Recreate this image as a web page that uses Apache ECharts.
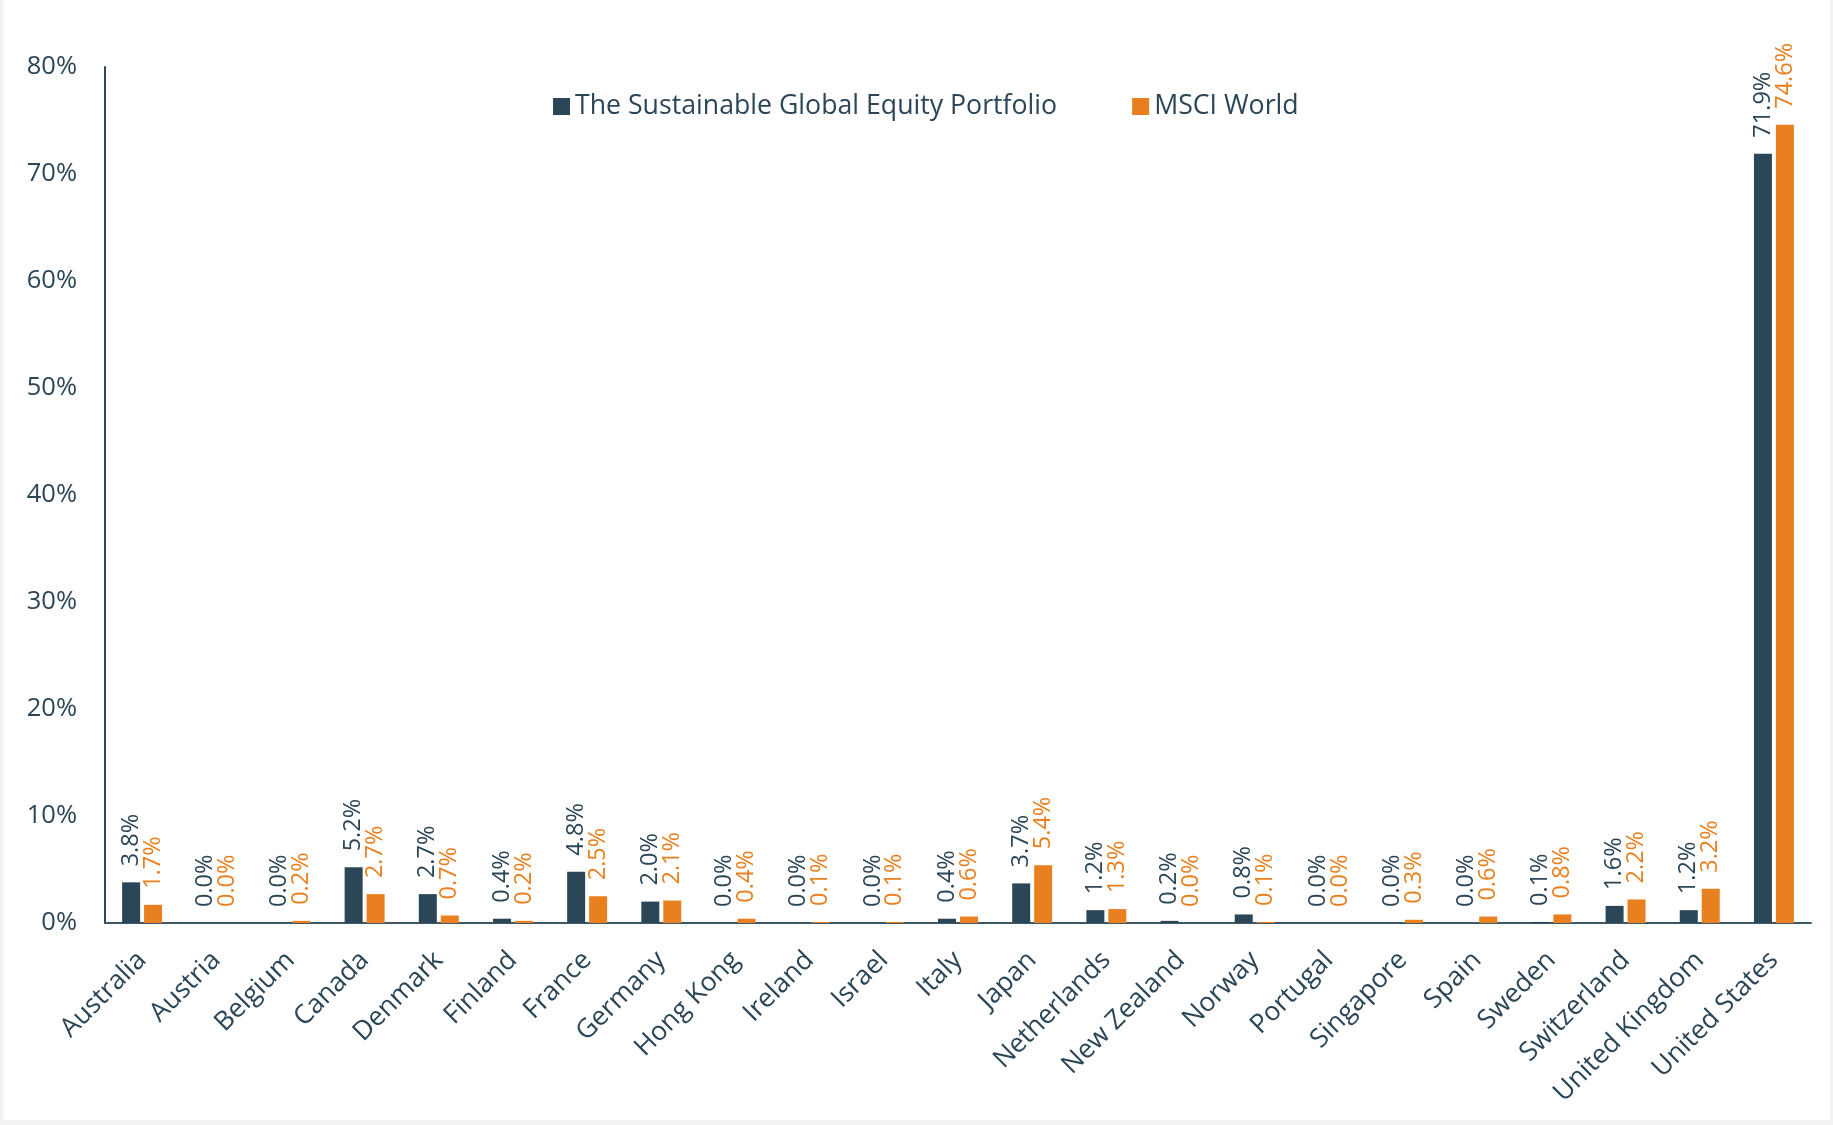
<!DOCTYPE html>
<html><head><meta charset="utf-8">
<script src="https://cdn.jsdelivr.net/npm/echarts@6/dist/echarts.min.js"></script>
<style>
html,body{margin:0;padding:0;background:#f2f2f2;}
#c{position:absolute;left:3px;top:0;width:1827px;height:1120px;background:#fff;}
</style></head>
<body><div id="c"></div>
<script>
const categories = ['Australia','Austria','Belgium','Canada','Denmark','Finland','France','Germany','Hong Kong','Ireland','Israel','Italy','Japan','Netherlands','New Zealand','Norway','Portugal','Singapore','Spain','Sweden','Switzerland','United Kingdom','United States'];
const portfolio = [3.8,0.0,0.0,5.2,2.7,0.4,4.8,2.0,0.0,0.0,0.0,0.4,3.7,1.2,0.2,0.8,0.0,0.0,0.0,0.1,1.6,1.2,71.9];
const msci = [1.7,0.0,0.2,2.7,0.7,0.2,2.5,2.1,0.4,0.1,0.1,0.6,5.4,1.3,0.0,0.1,0.0,0.3,0.6,0.8,2.2,3.2,74.6];
const seriesNames = ['The Sustainable Global Equity Portfolio','MSCI World'];
const yTicks = [0,10,20,30,40,50,60,70,80];

const DARK = '#2b4657', ORANGE = '#e8801f', TEXT = '#2b4657';
const FONT = '"Open Sans", sans-serif';
const chart = echarts.init(document.getElementById('c'));
function lbl(color){
  return {show:true, position:'top', rotate:90, align:'left', verticalAlign:'middle', distance:16,
    color:color, fontFamily:FONT, fontSize:23.5, formatter:p=>p.value.toFixed(1)+'%'};
}
chart.setOption({
  animation:false,
  textStyle:{fontFamily:FONT},
  legend:{top:88, left:545, itemWidth:17, itemHeight:17, itemGap:75, icon:'rect',
    textStyle:{color:TEXT, fontSize:26.7, fontFamily:FONT}, data:seriesNames},
  grid:{left:102, right:19, top:67, bottom:197},
  xAxis:{type:'category', data:categories,
    axisLine:{lineStyle:{color:'#3d5868', width:2}}, axisTick:{show:false},
    axisLabel:{rotate:45, interval:0, margin:33, color:TEXT, fontSize:26.5, fontFamily:FONT}},
  yAxis:{type:'value', min:yTicks[0], max:yTicks[yTicks.length-1], interval:10,
    splitLine:{show:false},
    axisLine:{show:true, lineStyle:{color:DARK, width:2}}, axisTick:{show:false},
    axisLabel:{margin:28, color:TEXT, fontSize:25.5, fontFamily:FONT, formatter:'{value}%'}},
  series:[
    {name:seriesNames[0], type:'bar', data:portfolio, barWidth:18, barGap:'22%', itemStyle:{color:DARK}, label:lbl(DARK)},
    {name:seriesNames[1], type:'bar', data:msci, barWidth:18, itemStyle:{color:ORANGE}, label:lbl(ORANGE)}
  ]
});
</script></body></html>
